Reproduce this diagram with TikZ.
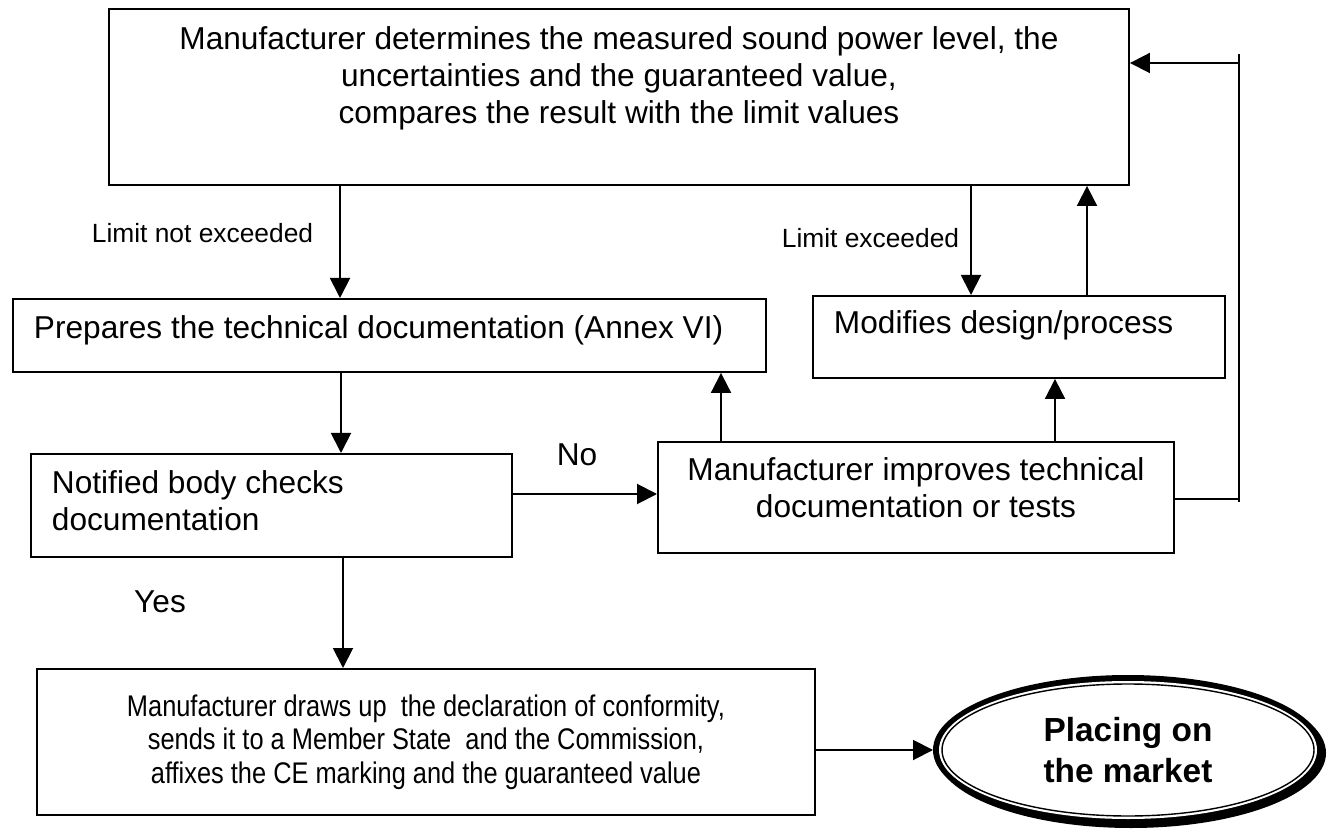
\documentclass[tikz,border=0pt]{standalone}
\usepackage{fontspec}
\setmainfont{Liberation Sans}
\newfontfamily\narrowfont{Liberation Sans}[FakeStretch=0.85]
\usetikzlibrary{arrows.meta,shapes.geometric}
\begin{document}
\begin{tikzpicture}[
  box/.style={draw,line width=1.1pt,inner sep=0,anchor=north west,font=\fontsize{18}{21}\selectfont},
  arr/.style={line width=1.1pt,-{Triangle[length=0.4cm,width=0.4cm]}},
  txt/.style={inner sep=0,font=\fontsize{18}{21}\selectfont},
  lbl/.style={inner sep=0,font=\fontsize{15}{18}\selectfont}]
\useasboundingbox (0,0) rectangle (26.54,-16.64);
\node[box](measure) at (2.16,-0.16)
  {\parbox[c][3.52cm][t]{20.4cm}{\centering\vspace*{0.36cm}Manufacturer determines the measured sound power level, the\\
   uncertainties and the guaranteed value,\\compares the result with the limit values}};
\node[box](prepare) at (0.24,-5.96)
  {\parbox[c][1.46cm][t]{15.06cm}{\vspace*{0.33cm}\hspace*{0.42cm}Prepares the technical documentation (Annex VI)}};
\node[box](modify) at (16.24,-5.9)
  {\parbox[c][1.64cm][t]{8.24cm}{\vspace*{0.29cm}\hspace*{0.42cm}Modifies design/process}};
\node[box](check) at (0.6,-9.06)
  {\parbox[c][2.06cm][t]{9.62cm}{\vspace*{0.33cm}\leftskip=0.42cm Notified body checks\\documentation}};
\node[box](improve) at (13.14,-8.82)
  {\parbox[c][2.22cm][t]{10.32cm}{\centering\vspace*{0.31cm}Manufacturer improves technical\\documentation or tests}};
\node[box,font=\narrowfont\fontsize{17}{19}\selectfont](declare) at (0.72,-13.36)
  {\parbox[c][2.92cm][c]{15.56cm}{\centering Manufacturer draws up\ \ the declaration of conformity,\\
   sends it to a Member State\ \ and the Commission,\\affixes the CE marking and the guaranteed value}};
\coordinate (mc) at (22.56,-15);
\fill([shift={(0.06,-0.06)}]mc) ellipse [x radius=3.9cm,y radius=1.5cm];
\fill(mc) ellipse [x radius=3.9cm,y radius=1.5cm];
\fill[white](mc) ellipse [x radius=3.78cm,y radius=1.38cm];
\draw[line width=0.8pt](mc) ellipse [x radius=3.72cm,y radius=1.32cm];
\node[ellipse,minimum width=7.8cm,minimum height=3cm,inner sep=0,outer sep=0,align=center,
  font=\bfseries\fontsize{19}{23}\selectfont](market) at (mc) {Placing on\\the market};
\node[lbl](notexc) at (4.05,-4.66) {Limit not exceeded};
\node[lbl](exc) at (17.41,-4.76) {Limit exceeded};
\node[txt](no) at (11.54,-9.1) {No};
\node[txt](yes) at (3.2,-12.04) {Yes};
\draw[arr](6.8,0 |- measure.south)--(6.8,0 |- prepare.north);
\draw[arr](6.82,0 |- prepare.south)--(6.82,0 |- check.north);
\draw[arr](6.86,0 |- check.south)--(6.86,0 |- declare.north);
\draw[arr](19.42,0 |- measure.south)--(19.42,0 |- modify.north);
\draw[arr](21.74,0 |- modify.north)--(21.74,0 |- measure.south);
\draw[arr](14.42,0 |- improve.north)--(14.42,0 |- prepare.south);
\draw[arr](21.1,0 |- improve.north)--(21.1,0 |- modify.south);
\draw[arr](check.east |- 0,-9.88)--(improve.west |- 0,-9.88);
\draw[arr](declare.east |- market.west)--(market.west);
\coordinate (turn) at (24.78,-9.98);
\draw[arr](improve.east |- turn)--(turn)|-(measure.east |- 0,-1.26);
\draw[line width=1.1pt](turn)--++(0,-0.06) (turn |- 0,-1.26)--++(0,0.18);
\end{tikzpicture}
\end{document}
